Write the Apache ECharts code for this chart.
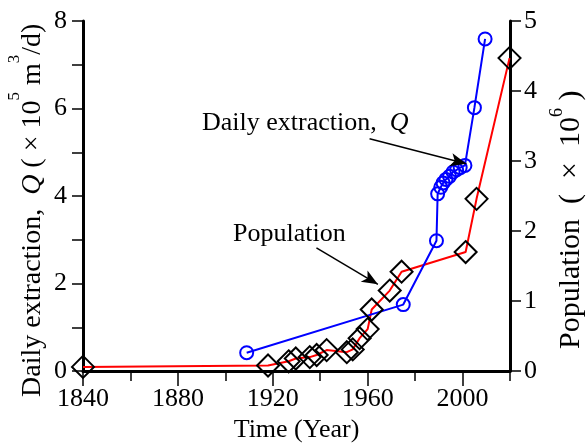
<!DOCTYPE html>
<html>
<head>
<meta charset="utf-8">
<script src="https://cdn.jsdelivr.net/npm/echarts@6/dist/echarts.min.js"></script>
<style>
  html, body { margin: 0; padding: 0; background: #fff; }
  #main { width: 587px; height: 448px; }
</style>
</head>
<body>
<div id="main"></div>
<script>
// 日开采量 Q (x10^5 m3/d)
var qYears = [1909, 1975, 1989, 1989.5, 1990.8, 1991.8, 1993, 1994.5, 1996, 1997.5, 1999, 2001, 2005, 2009.5];
var qValues = [0.42, 1.52, 2.98, 4.05, 4.2, 4.3, 4.38, 4.45, 4.55, 4.6, 4.65, 4.7, 6.02, 7.59];

// 人口 (x10^6)
var popYears = [1840, 1918, 1926.7, 1929.7, 1935.6, 1938.5, 1942.7, 1951.2, 1953.7, 1956.6, 1960, 1961.7, 1969.3, 1974.3, 2001.3, 2005.9, 2019.8];
var popValues = [0.06, 0.08, 0.14, 0.18, 0.2, 0.23, 0.3, 0.27, 0.31, 0.47, 0.6, 0.88, 1.15, 1.42, 1.7, 2.46, 4.47];

var xTicks = [1840, 1880, 1920, 1960, 2000];
var leftTicks = [0, 2, 4, 6, 8];

// 注释箭头 (数据坐标)
var qArrow = [[1960.8, 5.31], [2001.6, 4.74]];
var popArrow = [[1938.4, 1.76], [1964.3, 1.24]];

var FONT = "Liberation Serif";

function pairs(xs, ys) {
	var out = [];
	for (var i = 0; i < xs.length; i++) {
		out.push([xs[i], ys[i]]);
	}
	return out;
}

var chart = echarts.init(document.getElementById("main"), null, {renderer: "canvas"});

var axisLine = { show: true, onZero: false, lineStyle: { color: "#000", width: 3 } };
var tickStyle = { color: "#000", width: 1.5 };

var option = {
	animation: false,
	backgroundColor: "#fff",
	grid: { left: 83, right: 77, top: 21, bottom: 76 },
	xAxis: [{
		type: "value",
		min: 1840,
		max: 2020,
		interval: 20,
		axisLine: axisLine,
		axisTick: { show: true, length: 10, lineStyle: tickStyle },
		axisLabel: {
			margin: 15,
			color: "#000", fontFamily: FONT, fontSize: 26,
			formatter: function(v) { return xTicks.indexOf(v) >= 0 ? String(v) : ""; }
		},
		splitLine: { show: false },
		name: "Time (Year)",
		nameLocation: "middle",
		nameGap: 44,
		nameTextStyle: { color: "#000", fontFamily: FONT, fontSize: 26 }
	}, {
		type: "value",
		position: "bottom",
		min: 1840,
		max: 2020,
		interval: 40,
		axisLine: { show: false },
		axisTick: { show: true, length: 15, customValues: xTicks, lineStyle: tickStyle },
		axisLabel: { show: false },
		splitLine: { show: false }
	}],
	yAxis: [{
		type: "value",
		min: 0,
		max: 8,
		interval: 1,
		position: "left",
		axisLine: axisLine,
		axisTick: { show: true, length: 11, lineStyle: tickStyle },
		axisLabel: {
			margin: 16,
			color: "#000", fontFamily: FONT, fontSize: 26,
			formatter: function(v) { return leftTicks.indexOf(v) >= 0 ? String(v) : ""; }
		},
		splitLine: { show: false }
	}, {
		type: "value",
		min: 0,
		max: 5,
		interval: 1,
		position: "right",
		axisLine: axisLine,
		axisTick: { show: true, length: 11, lineStyle: tickStyle },
		axisLabel: { margin: 14, color: "#000", fontFamily: FONT, fontSize: 26 },
		splitLine: { show: false }
	}],
	series: [{
		name: "Population",
		type: "line",
		xAxisIndex: 0,
		yAxisIndex: 1,
		data: pairs(popYears, popValues),
		symbol: "diamond",
		symbolSize: 22,
		showAllSymbol: true,
		lineStyle: { color: "#ff0000", width: 2 },
		itemStyle: { color: "transparent", borderColor: "#000", borderWidth: 2 },
		markLine: {
			silent: true,
			symbol: ["none", "arrow"],
			symbolSize: [10, 16],
			label: { show: false },
			lineStyle: { color: "#000", width: 1.5, type: "solid" },
			data: [[{ coord: popArrow[0] }, { coord: popArrow[1] }]]
		}
	}, {
		name: "Daily extraction",
		type: "line",
		xAxisIndex: 0,
		yAxisIndex: 0,
		data: pairs(qYears, qValues),
		symbol: "circle",
		symbolSize: 13,
		showAllSymbol: true,
		lineStyle: { color: "#0000ff", width: 2 },
		itemStyle: { color: "transparent", borderColor: "#0000ff", borderWidth: 2 },
		markLine: {
			silent: true,
			symbol: ["none", "arrow"],
			symbolSize: [10, 16],
			label: { show: false },
			lineStyle: { color: "#000", width: 1.5, type: "solid" },
			data: [[{ coord: qArrow[0] }, { coord: qArrow[1] }]]
		}
	}],
	graphic: [{
		// 左轴标题 (竖排)
		type: "text",
		x: 33,
		y: 397,
		rotation: Math.PI / 2,
		style: {
			text: "Daily extraction,  {i|Q} ( × 10{sup|5} m{sup|3}/d)",
			font: "28px " + FONT,
			fill: "#000",
			align: "left",
			verticalAlign: "middle",
			lineHeight: 54,
			rich: {
				i: { fontFamily: FONT, fontSize: 28, fontStyle: "italic", fill: "#000", lineHeight: 54 },
				sup: { fontFamily: FONT, fontSize: 17, fill: "#000", verticalAlign: "top", lineHeight: 17 }
			}
		}
	}, {
		// 右轴标题
		type: "text",
		x: 571,
		y: 349,
		rotation: Math.PI / 2,
		style: {
			text: "Population  (  ×  10{sup|6} )",
			font: "30px " + FONT,
			fill: "#000",
			align: "left",
			verticalAlign: "middle",
			lineHeight: 46,
			rich: {
				sup: { fontFamily: FONT, fontSize: 18, fill: "#000", verticalAlign: "top", lineHeight: 18 }
			}
		}
	}, {
		type: "text",
		left: 202,
		top: 110,
		style: {
			text: "Daily extraction,  {i|Q}",
			font: "26px " + FONT,
			fill: "#000",
			rich: {
				i: { fontFamily: FONT, fontSize: 26, fontStyle: "italic", fill: "#000" }
			}
		}
	}, {
		type: "text",
		left: 233,
		top: 221,
		style: {
			text: "Population",
			font: "26px " + FONT,
			fill: "#000"
		}
	}]
};

chart.setOption(option);
</script>
</body>
</html>
